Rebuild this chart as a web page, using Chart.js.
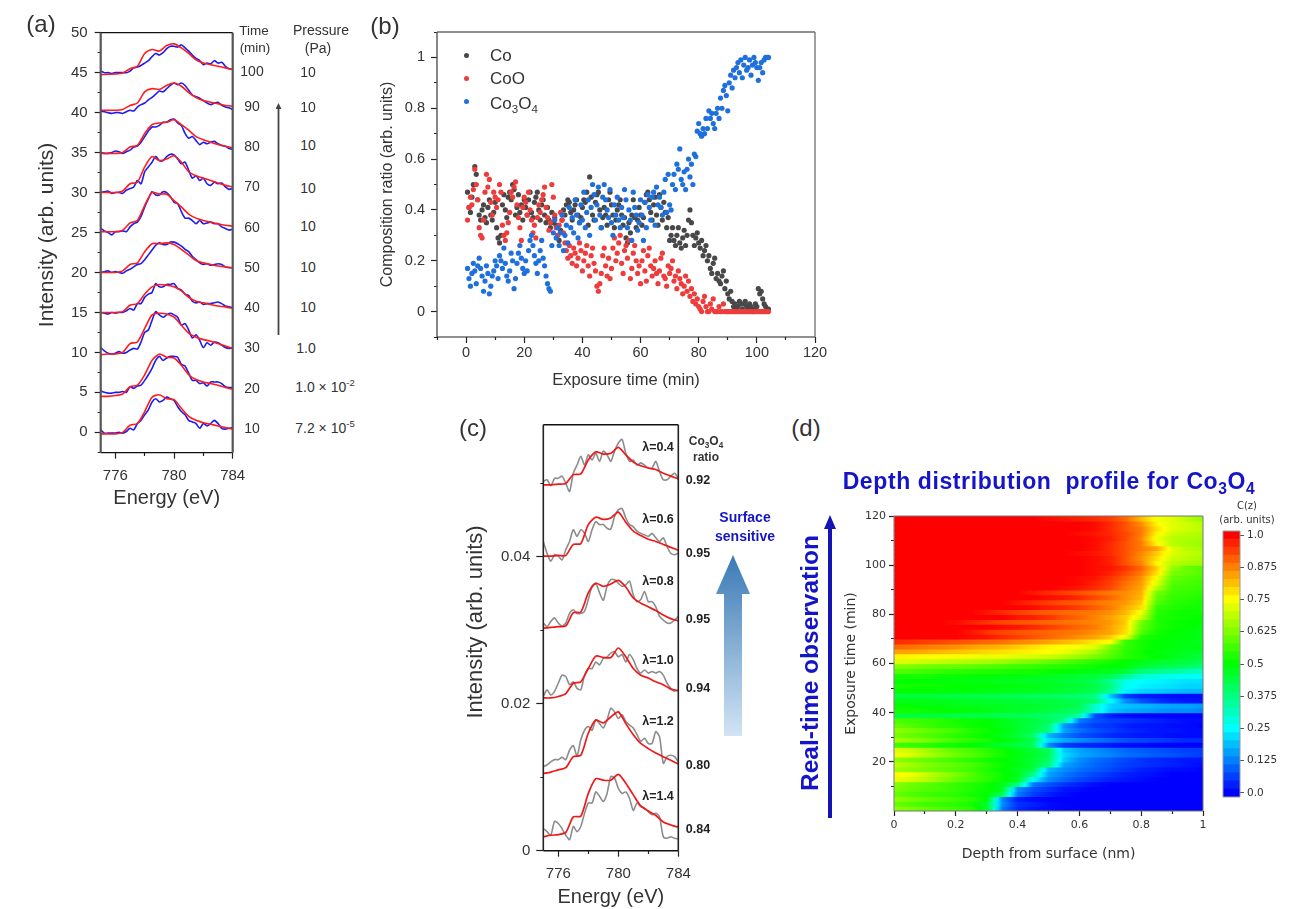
<!DOCTYPE html>
<html>
<head>
<meta charset="utf-8">
<title>Co3O4 panels</title>
<script src="https://cdn.jsdelivr.net/npm/chart.js@4"></script>
<style>
  html, body { margin: 0; background: #fff; }
  #page { position: relative; width: 1297px; height: 909px; overflow: hidden; font-family: "Liberation Sans", Arial, sans-serif; color: #333; }
  #page canvas { position: absolute; }
  .t { position: absolute; white-space: nowrap; transform: translate(-50%, -50%); line-height: 1; z-index: 5; }
  .a { position: absolute; z-index: 4; }
  sub { font-size: 68%; line-height: 0; }
  sup { font-size: 68%; line-height: 0; }
</style>
</head>
<body>
<div id="page"></div>
<script>
// ---- panel (a): spectra, heights above each curve's baseline ----
const energyGrid = [775,775.25,775.5,775.75,776,776.25,776.5,776.75,777,777.25,777.5,777.75,778,778.25,778.5,778.75,779,779.25,779.5,779.75,780,780.25,780.5,780.75,781,781.25,781.5,781.75,782,782.25,782.5,782.75,783,783.25,783.5,783.75,784];
const fitEnergyGrid = [775,775.5,776,776.5,777,777.5,778,778.5,779,779.5,780,780.5,781,781.5,782,782.5,783,783.5,784];
const timeLabels = [10,20,30,40,50,60,70,80,90,100];
const spectraOffsets = [0,5,10,15,20,25,30,35,40,45];

const obs10 = [.3,-.1,-.1,-.1,-.1,0,-.1,.1,.5,.3,1.1,1.5,2.2,2.8,3.8,4.2,3.8,4,4.4,4.2,4,3.2,2.6,2.2,1.5,1.3,1.1,.5,1.1,.8,1.1,1.5,1.1,.5,.4,.5,.6];
const obs20 = [.2,0,-.1,-.1,0,0,.1,0,.7,.5,.8,.9,1.5,2.2,3,4,4.5,4,4.3,4.5,4.5,4.4,3.5,3.3,2.4,1.5,1.5,1.1,1.2,.8,1.3,1.3,1.3,1.1,.7,.6,.6];
const obs30 = [.6,.2,-.1,-.2,-.1,.1,-.1,0,.3,.5,.4,1.3,2.5,2.8,4,5.1,4.7,4.4,4.7,4.9,4.7,4.4,3.4,3.6,2.8,1.8,2.2,1.5,.6,1.2,.9,1.3,1.2,.9,.6,.5,.6];
const obs40 = [0,-.1,-.2,0,-.1,0,0,.2,.5,.3,1.1,1.1,1.9,2.3,2.5,3.6,3.2,3.2,3.5,3.5,3.6,3,2.8,2.3,2.1,1.4,1.2,1.3,1,1.1,1.1,1.2,1.3,1.1,.8,.7,.6];
const obs50 = [0,.1,.2,0,.1,0,-.1,.2,.4,.7,1,1.1,1.6,2.2,2.8,3.4,3.7,3.5,3.5,3.8,3.8,3.6,3.3,2.9,2.6,2,1.6,1.2,1,1.1,.9,1,1.1,1,.7,.6,.6];
const obs60 = [.5,.2,0,-.3,.1,.1,.2,.1,.7,1.1,1.3,2,3.2,4.2,5.1,4.7,4.7,5.1,5,4.5,3.8,3.6,2.6,1.8,1.8,1.5,1.1,1.5,1.1,1.2,1.3,1.1,1.1,.7,.5,.3,.4];
const obs70 = [0,.1,.2,-.1,0,0,-.1,.3,.5,.7,1.5,1.1,2.6,3.2,3.8,4.5,4,4,4.5,4.8,4.7,4.2,3.6,3.8,2.8,1.8,2.1,1.5,1.8,1.1,.9,1.3,1.1,1.2,.7,.4,.5];
const obs80 = [0,-.1,-.1,0,.2,.1,-.1,.1,.3,.7,.8,1.3,2,2.7,3.2,3.2,3.4,3.8,3.8,4.1,4.2,3.7,3.4,2.4,1.8,2,1.5,1,1.3,1.1,1.3,1.4,1.1,.9,.8,.5,.4];
const obs90 = [.2,.1,0,-.1,0,0,-.1,.1,.3,.2,.7,1,1.2,1.6,1.9,2.3,2.7,2.6,3,3.4,3.7,3.5,3.7,3.4,2.8,2.2,2,1.8,1.5,1.2,1,1.2,1.3,.9,.7,.6,.4];
const obs100 = [.2,0,0,-.1,0,0,0,0,.2,.6,.7,.9,1.2,1.5,2,2.4,2.2,2.5,3,3.3,3.3,3.2,3.5,3.1,2.7,2.2,1.8,1.5,1,1.2,1.1,1.5,1.2,1.3,.8,.5,.4];

const fit10 = [-.2,-.2,-.2,0,.9,1.1,2.6,4.4,4.7,4.2,4.1,3,2,1.5,1.2,1,.8,.6,.4];
const fit20 = [-.5,-.5,-.4,-.2,.7,.9,2.2,4,4.8,4.4,4.3,3.4,2.2,1.6,1.3,1.1,.9,.6,.4];
const fit30 = [-.3,-.2,-.2,0,1.1,1.3,3,4.7,4.9,4.8,4.4,3.4,2.4,1.9,1.6,1.4,1.1,.8,.5];
const fit40 = [0,0,0,.1,.9,1.1,2.3,3.2,3.5,3.4,3.2,2.7,1.9,1.4,1.2,1,.8,.7,.5];
const fit50 = [0,0,0,.2,1,1.2,2.6,3.6,3.6,3.7,3.5,2.9,2.2,1.5,1.2,1,.8,.7,.6];
const fit60 = [.1,.1,.1,.3,1.2,1.5,3.4,5,4.8,4.8,4,3.2,2.3,1.8,1.5,1.3,1.1,.9,.8];
const fit70 = [0,0,0,.2,1.1,1.3,3.2,4.5,4,4.2,4.6,3.8,2.6,2.1,1.8,1.5,1.2,.9,.7];
const fit80 = [-.1,-.1,-.1,0,.7,.9,2.4,3.5,3.7,3.8,4.1,3.5,2.8,2,1.6,1.3,1,.8,.6];
const fit90 = [.3,.3,.3,.4,.9,1.2,2.6,3,2.9,3.4,3.7,3.3,2.5,1.9,1.5,1.3,1.1,.9,.8];
const fit100 = [-.25,-.2,-.17,-.04,.5,.8,2.4,2.9,2.7,3.4,3.6,3.1,2.4,1.6,1.2,1,.8,.6,.4];

const obsSeries = [obs10,obs20,obs30,obs40,obs50,obs60,obs70,obs80,obs90,obs100];
const fitSeries = [fit10,fit20,fit30,fit40,fit50,fit60,fit70,fit80,fit90,fit100];
const pressureLabels = ['7.2 × 10<sup>-5</sup>','1.0 × 10<sup>-2</sup>','1.0','10','10','10','10','10','10','10'];

const xTicksA = [776,778,780,782,784];
const xLabelsA = [776,780,784];
const yTicksA = [-2.5,0,2.5,5,7.5,10,12.5,15,17.5,20,22.5,25,27.5,30,32.5,35,37.5,40,42.5,45,47.5,50];
const yLabelsA = [0,5,10,15,20,25,30,35,40,45,50];

// ---- panel (b): composition ratio, values in hundredths ----
const exposureTimes = [
  .5,1,1.5,2,2.5,3,3.5,4,4.5,5,5.5,6,6.5,7,7.5,8,8.5,9,9.5,10,
  10.5,11,11.5,12,12.5,13,13.5,14,14.5,15,15.5,16,16.5,17,17.5,18,18.5,19,19.5,20,
  20.5,21,21.5,22,22.5,23,23.5,24,24.5,25,25.5,26,26.5,27,27.5,28,28.5,29,29.5,30,
  30.5,31,31.5,32,32.5,33,33.5,34,34.5,35,35.5,36,36.5,37,37.5,38,38.5,39,39.5,40,
  40.5,41,41.5,42,42.5,43,43.5,44,44.5,45,45.5,46,46.5,47,47.5,48,48.5,49,49.5,50,
  50.5,51,51.5,52,52.5,53,53.5,54,54.5,55,55.5,56,56.5,57,57.5,58,58.5,59,59.5,60,
  60.5,61,61.5,62,62.5,63,63.5,64,64.5,65,65.5,66,66.5,67,67.5,68,68.5,69,69.5,70,
  70.5,71,71.5,72,72.5,73,73.5,74,74.5,75,75.5,76,76.5,77,77.5,78,78.5,79,79.5,80,
  80.5,81,81.5,82,82.5,83,83.5,84,84.5,85,85.5,86,86.5,87,87.5,88,88.5,89,89.5,90,
  90.5,91,91.5,92,92.5,93,93.5,94,94.5,95,95.5,96,96.5,97,97.5,98,98.5,99,99.5,100,
  100.5,101,101.5,102,102.5,103,103.5,104];
const ratioCo = [
  47,41,39,45,50,57,54,44,38,36,40,42,37,35,41,44,38,36,39,43,
  33,29,27,30,42,46,40,37,45,47,44,50,48,38,41,46,39,42,36,44,
  41,38,44,47,39,37,43,45,47,40,36,42,44,38,35,41,36,33,39,35,
  37,34,30,28,32,36,40,38,42,44,43,39,36,40,42,44,38,35,37,41,
  44,43,47,34,53,45,38,36,43,46,47,40,33,37,41,38,34,44,47,42,
  38,33,36,40,42,44,38,34,37,29,27,35,31,38,44,37,33,36,41,38,
  34,37,43,46,47,44,39,36,42,45,38,34,46,41,36,43,39,33,37,28,
  30,33,28,26,30,33,27,25,29,32,26,30,36,40,35,30,26,29,31,27,
  25,28,22,24,26,20,22,17,15,19,21,13,15,12,11,14,16,9,12,7,
  5,8,4,2,3,1,2,4,3,1,3,4,2,1,3,2,0,1,3,2,
  9,7,8,5,3,2,1,1];
const ratioCoO = [
  36,41,45,42,48,56,50,44,33,30,29,36,47,54,49,52,43,38,47,45,
  41,44,50,47,34,30,28,31,35,39,47,45,49,51,42,37,33,28,41,45,
  43,38,47,40,36,31,34,29,37,42,39,44,46,49,41,37,32,35,50,45,
  38,33,30,34,39,36,31,27,24,21,26,22,19,25,23,18,21,27,24,16,
  20,23,26,18,14,22,25,19,16,10,8,11,15,22,25,18,14,21,13,17,
  25,29,20,23,27,30,19,15,24,26,21,28,13,17,23,26,20,15,18,11,
  20,24,16,12,22,25,18,14,17,20,15,11,16,21,23,14,13,10,18,15,
  17,20,12,14,9,16,13,11,7,10,14,8,12,6,9,4,7,3,5,2,
  1,0,4,6,2,0,0,3,1,5,0,0,0,2,0,0,3,0,0,0,
  0,0,0,0,0,0,0,0,0,0,0,0,0,0,0,0,0,0,0,0,
  0,0,0,0,0,0,0,0];
const ratioCo3O4 = [
  17,13,10,15,19,16,11,18,21,17,14,8,12,18,15,7,10,14,16,20,
  18,13,22,20,17,25,19,14,12,16,23,20,9,13,19,23,26,21,17,15,
  20,16,24,28,30,26,22,19,15,20,24,28,21,18,14,11,9,8,26,31,
  36,29,33,26,31,38,24,30,34,27,41,33,37,31,44,38,29,35,42,36,
  47,33,39,44,30,41,50,46,36,42,49,38,33,45,50,44,40,37,48,35,
  30,42,38,45,36,33,41,37,48,44,33,40,36,28,47,41,38,32,35,44,
  38,28,43,33,46,41,36,45,47,34,49,42,45,41,38,47,52,39,54,42,
  40,50,54,48,58,56,64,52,50,55,48,56,60,53,58,50,62,61,71,74,
  70,69,72,70,76,72,79,76,78,74,72,78,80,76,84,80,87,89,85,79,
  90,93,88,95,92,96,98,94,99,92,97,100,95,96,99,93,97,100,98,96,
  91,96,98,94,99,100,100,100];
const xTicksB = [-10,0,10,20,30,40,50,60,70,80,90,100,110,120];
const xLabelsB = [0,20,40,60,80,100,120];
const yTicksB = [-.1,0,.1,.2,.3,.4,.5,.6,.7,.8,.9,1,1.1];
const yLabelsB = [0,.2,.4,.6,.8,1];

// ---- panel (c): spectra by lambda, values in units of 1e-4 ----
const lambdaLabels = ['λ=0.4','λ=0.6','λ=0.8','λ=1.0','λ=1.2','λ=1.4'];
const co3o4Ratios = ['0.92','0.95','0.95','0.94','0.80','0.84'];
const measL04 = [503,505,497,507,507,510,500,489,514,525,537,525,539,532,541,530,544,539,530,544,555,560,541,530,532,525,528,525,521,521,530,516,505,505,510,514,507];
const measL06 = [421,405,394,403,401,396,410,421,437,428,437,432,421,437,448,444,444,439,438,455,464,466,453,444,441,435,432,430,428,432,426,421,426,414,405,403,405];
const measL08 = [310,305,312,317,310,306,310,323,328,323,323,326,342,360,364,351,341,360,369,369,364,360,362,367,348,339,342,353,339,339,332,319,314,310,310,314,319];
const measL10 = [210,219,212,217,228,239,237,226,230,221,219,239,248,248,257,253,262,264,269,271,264,267,257,267,260,248,242,246,242,244,242,244,239,228,221,217,219];
const measL12 = [114,117,121,124,124,127,124,137,143,129,151,164,169,164,178,173,167,178,194,189,180,185,176,171,167,158,149,153,146,146,162,155,119,128,130,128,121];
const measL14 = [30,26,21,40,37,30,21,15,33,26,33,51,65,65,80,74,67,78,101,99,85,78,80,71,55,65,60,58,53,49,51,46,19,17,19,17,16];
const modelL04 = [498,498,499,500,512,513,532,543,540,541,549,539,529,524,521,519,514,510,506];
const modelL06 = [401,401,402,402,417,418,444,454,451,453,461,447,435,429,424,421,417,413,409];
const modelL08 = [303,304,305,306,324,325,351,364,360,363,368,359,344,337,332,327,321,316,313];
const modelL10 = [208,208,210,214,228,230,248,265,263,263,276,264,248,239,235,230,226,220,218];
const modelL12 = [105,107,110,113,128,130,160,178,174,182,189,173,158,146,139,133,128,123,118];
const modelL14 = [19,21,22,25,46,47,78,98,96,96,104,92,76,61,54,48,39,35,32];
const xTicksC = [776,778,780,782,784];
const xLabelsC = [776,780,784];
const yTicksC = [0,.01,.02,.03,.04,.05];
const yLabelsC = [0,.02,.04];

// ---- panel (d): depth profile, C(z) in hundredths, one row per time ----
const heatDepths = [0,.05,.1,.15,.2,.25,.3,.35,.4,.45,.5,.55,.6,.65,.7,.75,.8,.85,.9,.95,1];
const heatTimes = [1,3,5,7,9,11,13,15,17,19,21,23,25,27,29,31,33,35,37,39,41,43,45,47,49,51,53,55,57,59,61,63,65,67,69,71,73,75,77,79,81,83,85,87,89,91,93,95,97,99,101,103,105,107,109,111,113,115,117,119];
const heatRows = [
  [64,62,60,58,56,54,46,12,4,2,1,0,0,0,0,0,0,0,0,0,0],
  [60,58,56,55,54,52,46,14,5,3,1,0,0,0,0,0,0,0,0,0,0],
  [64,62,60,58,56,54,50,13,3,1,0,0,0,0,0,0,0,0,0,0,0],
  [60,58,56,55,54,52,50,42,12,6,3,1,0,0,0,0,0,0,0,0,0],
  [62,60,58,57,55,53,51,47,14,8,5,2,1,0,0,0,0,0,0,0,0],
  [63,61,59,57,55,53,51,48,38,12,8,5,3,1,0,0,0,0,0,0,0],
  [73,71,68,64,60,57,54,51,47,25,14,10,7,5,3,2,1,0,0,0,0],
  [76,74,70,66,62,58,54,51,48,36,16,12,9,7,5,3,2,1,0,0,0],
  [66,64,62,60,58,56,53,50,47,43,18,14,11,9,7,5,3,2,1,1,0],
  [68,66,63,61,59,57,54,51,49,45,38,16,13,10,8,6,5,4,3,2,1],
  [64,62,60,58,56,54,52,50,48,45,40,20,14,11,9,7,5,4,3,2,2],
  [74,72,68,64,61,58,55,52,49,46,42,22,17,15,13,11,10,9,8,7,6],
  [72,70,66,62,59,57,54,51,48,45,41,20,16,14,12,10,9,8,7,6,6],
  [56,55,54,52,51,50,48,46,44,41,14,6,4,3,2,1,1,0,0,0,0],
  [66,64,62,59,56,54,52,49,47,42,22,17,14,12,10,8,7,6,5,4,4],
  [62,60,58,56,54,52,50,48,45,40,18,12,8,6,4,3,2,2,1,1,1],
  [64,62,60,58,56,53,51,49,46,43,38,16,11,8,6,4,3,2,2,1,1],
  [60,58,56,54,53,51,50,48,46,43,40,15,9,6,5,3,2,2,1,1,0],
  [58,56,55,54,52,51,50,48,46,44,41,36,12,8,6,5,4,3,2,1,1],
  [44,44,44,44,43,43,43,42,42,41,40,38,34,8,3,1,0,0,0,0,0],
  [52,52,51,50,50,49,48,47,46,45,44,42,40,30,20,17,16,15,14,14,13],
  [50,50,49,49,48,48,47,47,46,46,45,44,42,30,21,19,18,17,16,16,15],
  [48,48,48,47,47,46,46,45,45,44,44,43,42,40,26,14,8,5,3,2,2],
  [44,44,44,44,43,43,43,42,42,41,41,40,39,37,20,6,3,2,1,1,1],
  [50,50,50,49,49,49,48,48,47,47,46,45,44,42,36,24,21,20,19,18,18],
  [52,52,51,51,50,50,50,49,49,48,47,46,45,43,38,26,24,23,22,21,21],
  [50,50,50,49,49,48,48,47,47,46,46,45,44,42,36,27,25,24,23,22,22],
  [52,52,52,51,51,50,50,49,49,48,47,46,45,44,42,36,30,28,27,26,26],
  [58,57,56,55,54,54,53,53,52,52,51,50,49,48,47,44,38,36,34,32,30],
  [63,62,61,60,60,59,58,57,56,55,54,53,52,51,50,49,45,43,42,40,38],
  [72,71,70,69,68,67,66,65,63,62,60,58,56,54,52,50,48,46,45,44,42],
  [76,76,75,75,74,74,73,73,72,71,70,68,65,62,58,54,52,50,48,46,44],
  [84,84,83,82,81,80,79,78,77,76,75,73,70,66,60,54,51,49,48,47,46],
  [90,89,88,87,86,84,83,82,80,78,76,75,74,72,62,55,52,50,49,48,48],
  [96,95,94,93,92,91,90,89,87,86,84,82,80,77,75,55,52,50,49,48,47],
  [100,100,100,100,100,99,98,96,94,92,90,88,86,84,80,73,53,51,50,49,48],
  [100,100,100,100,100,98,95,93,92,91,90,89,88,86,84,78,58,52,50,49,48],
  [100,100,100,100,100,100,100,99,98,96,94,92,90,88,84,79,60,53,51,50,49],
  [100,100,100,100,99,97,95,93,92,91,90,89,88,87,85,80,62,53,51,50,50],
  [100,100,100,100,100,100,100,100,98,97,95,92,90,87,84,80,70,53,52,51,50],
  [100,100,100,100,100,100,98,96,94,92,91,90,89,88,86,82,74,54,52,51,51],
  [100,100,100,100,100,100,100,100,100,99,97,96,94,91,88,83,78,55,53,52,52],
  [100,100,100,100,100,100,100,100,98,96,94,92,91,89,87,85,80,58,54,53,52],
  [100,100,100,100,100,100,100,100,100,100,99,98,96,93,90,86,82,60,55,54,53],
  [100,100,100,100,100,100,100,100,100,98,96,94,92,90,88,86,83,62,56,55,54],
  [100,100,100,100,100,100,100,100,100,100,100,99,98,96,93,88,84,68,57,56,55],
  [100,100,100,100,100,100,100,100,100,100,100,100,99,97,94,89,85,72,58,57,56],
  [100,100,100,100,100,100,100,100,100,100,100,100,99,98,95,91,86,74,60,58,57],
  [100,100,100,100,100,100,100,100,100,100,100,100,100,99,97,93,88,78,62,60,58],
  [100,100,100,100,100,100,100,100,100,100,100,100,100,99,98,95,90,80,65,60,58],
  [100,100,100,100,100,100,100,100,100,100,100,100,100,99,97,92,87,76,68,66,65],
  [100,100,100,100,100,100,100,100,100,100,100,100,100,99,97,92,86,78,70,68,66],
  [100,100,100,100,100,100,100,100,100,100,100,100,99,98,96,92,87,80,72,69,67],
  [100,100,100,100,100,100,100,100,100,100,100,100,100,99,96,92,88,84,72,68,66],
  [100,100,100,100,100,100,100,100,100,100,100,100,100,99,96,92,88,76,68,66,65],
  [100,100,100,100,100,100,100,100,100,100,100,100,100,99,97,93,87,74,68,67,66],
  [100,100,100,100,100,100,100,100,100,100,100,100,99,98,96,93,88,76,70,68,67],
  [100,100,100,100,100,100,100,100,100,100,100,100,100,99,96,92,88,78,72,70,68],
  [100,100,100,100,100,100,100,100,100,100,100,100,100,99,96,92,86,76,72,70,68],
  [100,100,100,100,100,100,100,100,100,100,99,98,97,96,94,90,82,74,72,68,64]];
const xTicksD = [0,.1,.2,.3,.4,.5,.6,.7,.8,.9,1];
const xLabelsD = [0,.2,.4,.6,.8,1];
const yTicksD = [10,20,30,40,50,60,70,80,90,100,110,120];
const yLabelsD = [20,40,60,80,100,120];
const colorbarBands = [0,.03125,.0625,.09375,.125,.15625,.1875,.21875,.25,.28125,.3125,.34375,.375,.40625,.4375,.46875,.5,.53125,.5625,.59375,.625,.65625,.6875,.71875,.75,.78125,.8125,.84375,.875,.90625,.9375,.96875,1];
const colorbarTicks = [0,.125,.25,.375,.5,.625,.75,.875,1];
const colorbarLabels = ['0.0','0.125','0.25','0.375','0.5','0.625','0.75','0.875','1.0'];

// ---- helpers ----
const page = document.getElementById('page');
const sans = '"Liberation Sans", Arial, sans-serif';
const dejavu = '"DejaVu Sans", sans-serif';
Chart.defaults.font.family = sans;
Chart.defaults.animation = false;

function addText(html, x, y, css) {
  const el = document.createElement('div');
  el.className = 't';
  el.innerHTML = html;
  el.style.cssText = `left:${x}px;top:${y}px;${css || ''}`;
  page.appendChild(el);
}

// upward arrow as a clipped div
function addArrow(x, top, bottom, shaft, head, headLen, background) {
  const el = document.createElement('div');
  const a = (head - shaft) / 2;
  el.className = 'a';
  el.style.cssText = `left:${x - head / 2}px;top:${top}px;width:${head}px;height:${bottom - top}px;background:${background};` +
    `clip-path:polygon(50% 0,100% ${headLen}px,${a + shaft}px ${headLen}px,${a + shaft}px 100%,${a}px 100%,${a}px ${headLen}px,0 ${headLen}px);`;
  page.appendChild(el);
}

function addCanvas(box) {
  const c = document.createElement('canvas');
  c.width = box.right - box.left;
  c.height = box.bottom - box.top;
  c.style.left = box.left + 'px';
  c.style.top = box.top + 'px';
  page.appendChild(c);
  return c.getContext('2d');
}

function axis(pos, min, max, ticks, labelled, size, o) {
  const horizontal = pos === 'bottom';
  // left-axis ticks are stroked from their outer end, bottom ones from the axis
  const minorDash = horizontal ? [o.minor, 30] : [0, o.tick - o.minor, o.minor, 30];
  return {
    type: 'linear', position: pos, min, max, offset: false,
    afterBuildTicks(s) { s.ticks = ticks.map(value => ({ value })); },
    afterFit(s) { if (horizontal) s.height = size; else s.width = size; },
    ticks: {
      autoSkip: false, maxRotation: 0, padding: o.pad, color: o.color || '#333',
      font: { size: o.font, family: o.family || sans },
      callback(v) { return labelled.includes(v) ? String(v) : ''; }
    },
    grid: {
      offset: false, drawOnChartArea: false, tickLength: o.tick, tickColor: o.tickColor || '#222', tickWidth: o.tickWidth || 1.2,
      tickBorderDash: ctx => labelled.includes(ctx.tick.value) ? [] : minorDash
    },
    border: { display: false },
    title: {
      display: !!o.title, text: o.title, color: o.titleColor || '#333',
      font: { size: o.titleSize, family: o.family || sans },
      padding: o.titlePad
    }
  };
}

// frame lines round the plot area, per chart
const framePlugin = {
  id: 'frame',
  afterDatasetsDraw(chart, args, opts) {
    const { ctx, chartArea: a } = chart;
    const line = (s, x1, y1, x2, y2) => {
      if (!s) return;
      ctx.save();
      ctx.strokeStyle = s[0];
      ctx.lineWidth = s[1];
      ctx.beginPath();
      ctx.moveTo(x1, y1);
      ctx.lineTo(x2, y2);
      ctx.stroke();
      ctx.restore();
    };
    line(opts.top, a.left, a.top, a.right, a.top);
    line(opts.bottom, a.left, a.bottom, a.right, a.bottom);
    line(opts.left, a.left, a.top, a.left, a.bottom);
    line(opts.right, a.right, a.top, a.right, a.bottom);
  }
};
Chart.register(framePlugin);

const zip = (xs, ys) => xs.map((x, i) => ({ x, y: ys[i] }));
const lineSet = (data, color, width) => ({
  data, borderColor: color, borderWidth: width, showLine: true, pointRadius: 0, tension: 0.25, fill: false
});

function jet(v) {
  const stops = [[0, 0, 255], [0, 255, 255], [0, 255, 0], [255, 255, 0], [255, 0, 0]];
  const p = Math.min(Math.max(v, 0), 1) * 4;
  const i = Math.min(Math.floor(p), 3);
  const f = p - i;
  const c = stops[i].map((s, k) => Math.round(s + (stops[i + 1][k] - s) * f));
  return `rgb(${c[0]},${c[1]},${c[2]})`;
}

// ---- (a) ----
const plotA = { left: 100.7, top: 32.7, right: 232.7, bottom: 452.7 };
const boxA = { left: 30, top: 8, right: 262, bottom: 520 };
const setsA = [];
fitSeries.forEach((s, i) => setsA.push(lineSet(zip(fitEnergyGrid, s.map(v => v + spectraOffsets[i])), '#ff1c1c', 1.6)));
obsSeries.forEach((s, i) => setsA.push(lineSet(zip(energyGrid, s.map(v => v + spectraOffsets[i])), '#1c1cf0', 1.6)));
new Chart(addCanvas(boxA), {
  type: 'scatter',
  data: { datasets: setsA },
  options: {
    responsive: false,
    events: [],
    layout: { padding: { top: plotA.top - boxA.top, right: boxA.right - plotA.right, left: 0, bottom: 0 } },
    plugins: {
      legend: { display: false }, tooltip: { enabled: false },
      frame: { top: ['#111', 1.3], bottom: ['#111', 1.3], left: ['#555', 2.2], right: ['#555', 2.2] }
    },
    scales: {
      x: axis('bottom', 775, 784, xTicksA, xLabelsA, boxA.bottom - plotA.bottom,
        { pad: 8, font: 15, tick: 6, minor: 3, title: 'Energy (eV)', titleSize: 20, titlePad: { top: 0, bottom: 10 } }),
      y: axis('left', -2.55, 50, yTicksA, yLabelsA, plotA.left - boxA.left,
        { pad: 7, font: 15, tick: 6, minor: 3 })
    }
  }
});
addText('(a)', 41, 24, 'font-size:24px');
addText('Intensity (arb. units)', 45, 235, 'font-size:21px;transform:translate(-50%,-50%) rotate(-90deg)');
addText('Time', 254, 31, 'font-size:13.5px');
addText('(min)', 255, 48, 'font-size:13.5px');
addText('Pressure', 321, 30, 'font-size:14px');
addText('(Pa)', 318, 48, 'font-size:14px');
const timeLabelY = [428, 388, 347, 307, 267, 227, 186, 146, 106, 71];
const pressureLabelX = [325, 325, 306, 308, 308, 308, 308, 308, 308, 308];
const pressureLabelY = [428, 387, 348, 307, 267, 226, 188, 145, 107, 72];
timeLabels.forEach((t, i) => addText(String(t), 252, timeLabelY[i], 'font-size:14px'));
pressureLabels.forEach((p, i) => addText(p, pressureLabelX[i], pressureLabelY[i], 'font-size:14px'));
addArrow(278.5, 103, 335, 1.8, 6, 6, '#444');

// ---- (b) ----
const plotB = { left: 437, top: 32, right: 815, bottom: 337 };
const boxB = { left: 370, top: 8, right: 835, bottom: 400 };
const dotSet = (ys, color, order) => ({
  data: zip(exposureTimes, ys.map(v => v / 100)), backgroundColor: color, borderWidth: 0, pointRadius: 2.6, order
});
new Chart(addCanvas(boxB), {
  type: 'scatter',
  data: { datasets: [dotSet(ratioCo, '#484848', 3), dotSet(ratioCoO, '#ee3c3c', 2), dotSet(ratioCo3O4, '#1f6fdc', 1)] },
  options: {
    responsive: false,
    events: [],
    layout: { padding: { top: plotB.top - boxB.top, right: boxB.right - plotB.right, left: 0, bottom: 0 } },
    plugins: {
      legend: { display: false }, tooltip: { enabled: false },
      frame: { top: ['#222', 1.2], bottom: ['#222', 1.2], left: ['#555', 1.4], right: ['#777', 1.4] }
    },
    scales: {
      x: axis('bottom', -10, 120, xTicksB, xLabelsB, boxB.bottom - plotB.bottom,
        { pad: 1, font: 14.5, tick: 6, minor: 3, title: 'Exposure time (min)', titleSize: 16.5, titlePad: { top: 0, bottom: 10 } }),
      y: axis('left', -.1, 1.1, yTicksB, yLabelsB, plotB.left - boxB.left,
        { pad: 6, font: 14.5, tick: 6, minor: 3, title: 'Composition ratio (arb. units)', titleSize: 16, titlePad: { top: 8, bottom: 0 } })
    }
  }
});
addText('(b)', 385, 26, 'font-size:24px');
const legendDots = [['#484848', 55], ['#ee3c3c', 78], ['#1f6fdc', 101]];
legendDots.forEach(d => {
  const el = document.createElement('div');
  el.className = 'a';
  el.style.cssText = `left:${466 - 2.5}px;top:${d[1] - 2.5}px;width:5px;height:5px;border-radius:50%;background:${d[0]};`;
  page.appendChild(el);
});
addText('Co', 490, 55, 'font-size:17px;transform:translate(0,-50%)');
addText('CoO', 490, 78, 'font-size:17px;transform:translate(0,-50%)');
addText('Co<sub>3</sub>O<sub>4</sub>', 490, 103, 'font-size:17px;transform:translate(0,-50%)');

// ---- (c) ----
const plotC = { left: 543.3, top: 424.7, right: 678.3, bottom: 850.7 };
const boxC = { left: 460, top: 400, right: 705, bottom: 909 };
const measSeries = [measL04, measL06, measL08, measL10, measL12, measL14];
const modelSeries = [modelL04, modelL06, modelL08, modelL10, modelL12, modelL14];
const setsC = [];
modelSeries.forEach(s => setsC.push(lineSet(zip(fitEnergyGrid, s.map(v => v / 10000)), '#f01818', 1.7)));
measSeries.forEach(s => setsC.push(lineSet(zip(energyGrid, s.map(v => v / 10000)), '#8c8c8c', 1.6)));
new Chart(addCanvas(boxC), {
  type: 'scatter',
  data: { datasets: setsC },
  options: {
    responsive: false,
    events: [],
    layout: { padding: { top: plotC.top - boxC.top, right: boxC.right - plotC.right, left: 0, bottom: 0 } },
    plugins: {
      legend: { display: false }, tooltip: { enabled: false },
      frame: { top: ['#111', 1.4], bottom: ['#111', 1.4], left: ['#222', 1.6], right: ['#222', 1.6] }
    },
    scales: {
      x: axis('bottom', 775, 784, xTicksC, xLabelsC, boxC.bottom - plotC.bottom,
        { pad: 8, font: 15, tick: 6, minor: 3, title: 'Energy (eV)', titleSize: 20, titlePad: { top: 0, bottom: 0 } }),
      y: axis('left', 0, .058, yTicksC, yLabelsC, plotC.left - boxC.left,
        { pad: 6, font: 15, tick: 7, minor: 3 })
    }
  }
});
addText('(c)', 473, 428, 'font-size:24px');
addText('Intensity (arb. units)', 475, 622, 'font-size:22px;transform:translate(-50%,-50%) rotate(-90deg)');
addText('Co<sub>3</sub>O<sub>4</sub>', 706, 441, 'font-size:12px;font-weight:bold');
addText('ratio', 706, 457, 'font-size:12px;font-weight:bold');
const ratioLabelY = [480, 553, 619, 688, 765, 829];
const lambdaLabelY = [447, 519, 581, 660, 721, 796];
co3o4Ratios.forEach((r, i) => addText(r, 698, ratioLabelY[i], 'font-size:12.5px;font-weight:bold;color:#222'));
lambdaLabels.forEach((l, i) => addText(l, 658, lambdaLabelY[i], 'font-size:12.5px;font-weight:bold;color:#222'));
addText('Surface', 745, 517, 'font-size:14px;font-weight:bold;color:#1414c8');
addText('sensitive', 745, 536, 'font-size:14px;font-weight:bold;color:#1414c8');
addArrow(733, 555, 736, 18, 34, 39, 'linear-gradient(#3a7ab5,#d2e4f4)');

// ---- (d) ----
const plotD = { left: 894, top: 516, right: 1203, bottom: 811 };
const boxD = { left: 835, top: 490, right: 1218, bottom: 870 };
function rowGradient(ctx) {
  const chart = ctx.chart;
  const row = heatRows[ctx.dataIndex];
  const a = chart.chartArea;
  if (!a || !row) return '#fff';
  const g = chart.ctx.createLinearGradient(a.left, 0, a.right, 0);
  for (let i = 0; i < row.length - 1; i++) {
    // extra colour stops so the gradient follows the colour map between cells
    for (let k = 0; k < 4; k++) {
      const f = k / 4;
      g.addColorStop(heatDepths[i] + (heatDepths[i + 1] - heatDepths[i]) * f, jet((row[i] + (row[i + 1] - row[i]) * f) / 100));
    }
  }
  g.addColorStop(1, jet(row[row.length - 1] / 100));
  return g;
}
new Chart(addCanvas(boxD), {
  type: 'bar',
  data: {
    datasets: [{
      data: heatTimes.map(t => ({ x: [0, 1], y: t })),
      backgroundColor: rowGradient, borderWidth: 0, barThickness: 5.6
    }]
  },
  options: {
    responsive: false,
    events: [],
    indexAxis: 'y',
    layout: { padding: { top: plotD.top - boxD.top, right: boxD.right - plotD.right, left: 0, bottom: 0 } },
    plugins: {
      legend: { display: false }, tooltip: { enabled: false },
      frame: { top: ['#777', 1], bottom: ['#777', 1], left: ['#777', 1], right: ['#777', 1] }
    },
    scales: {
      x: axis('bottom', 0, 1, xTicksD, xLabelsD, boxD.bottom - plotD.bottom,
        { pad: 3, font: 11, family: dejavu, tick: 5, minor: 3, title: 'Depth from surface (nm)', titleSize: 14, titlePad: { top: 0, bottom: 7.6 } }),
      y: axis('left', 0, 120, yTicksD, yLabelsD, plotD.left - boxD.left,
        { pad: 3, font: 11, family: dejavu, tick: 5, minor: 3, title: 'Exposure time (min)', titleSize: 14, titlePad: { top: 7.6, bottom: 0 } })
    }
  }
});
addText('(d)', 806, 428, 'font-size:24px');
addText('Depth distribution&nbsp; profile for Co<sub>3</sub>O<sub>4</sub>', 1049, 481, 'font-size:23px;letter-spacing:.6px;font-weight:bold;color:#1414c8');
addText('Real-time observation', 810, 663, 'font-size:24.5px;font-weight:bold;color:#1414c8;transform:translate(-50%,-50%) rotate(-90deg)');
addArrow(830, 515, 818, 4, 12, 14, '#1414b4');

// colour bar
const plotBar = { left: 1223, top: 531, right: 1240, bottom: 797 };
const boxBar = { left: 1218, top: 515, right: 1297, bottom: 815 };
new Chart(addCanvas(boxBar), {
  type: 'bar',
  data: {
    labels: ['C(z)'],
    datasets: colorbarBands.map(b => ({
      data: [[b - .0157, b + .0157]], backgroundColor: jet(b), borderWidth: 0,
      grouped: false, barPercentage: 1, categoryPercentage: 1
    }))
  },
  options: {
    responsive: false,
    events: [],
    layout: { padding: { top: plotBar.top - boxBar.top, bottom: boxBar.bottom - plotBar.bottom, left: plotBar.left - boxBar.left, right: 0 } },
    plugins: {
      legend: { display: false }, tooltip: { enabled: false },
      frame: { top: ['#999', 1], bottom: ['#999', 1], left: ['#999', 1], right: ['#999', 1] }
    },
    scales: {
      x: { display: false },
      y: {
        type: 'linear', position: 'right', min: -.0157, max: 1.0157,
        afterBuildTicks(s) { s.ticks = colorbarTicks.map(value => ({ value })); },
        afterFit(s) { s.width = boxBar.right - plotBar.right; },
        ticks: {
          autoSkip: false, padding: 3, color: '#333', font: { size: 10.5, family: dejavu },
          callback(v) { return colorbarLabels[colorbarTicks.indexOf(v)]; }
        },
        grid: { drawOnChartArea: false, tickLength: 4, tickColor: '#555' },
        border: { display: false }
      }
    }
  }
});
addText('C(z)', 1247, 506, `font-size:10px;font-family:${dejavu}`);
addText('(arb. units)', 1247, 520, `font-size:10px;font-family:${dejavu}`);
</script>
</body>
</html>
